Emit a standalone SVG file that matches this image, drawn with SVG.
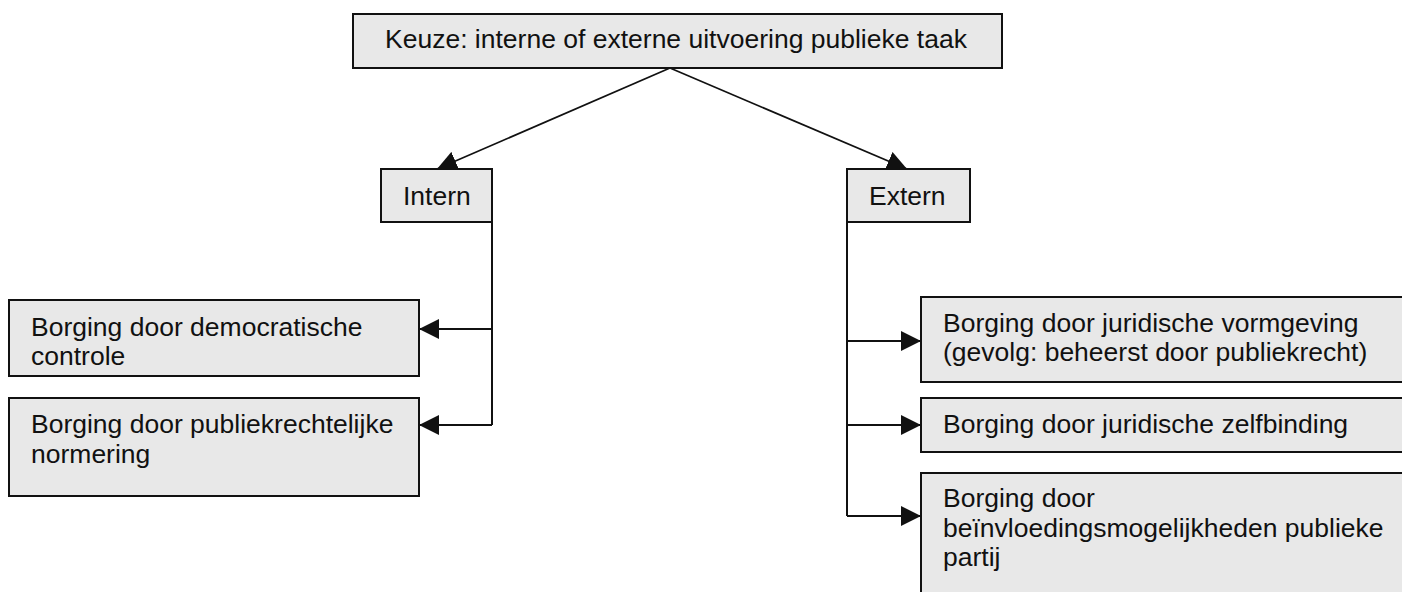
<svg xmlns="http://www.w3.org/2000/svg" width="1402" height="592" viewBox="0 0 1402 592">
<style>
.box{fill:#e8e8e8;stroke:#111;stroke-width:2}
.t{font-family:"Liberation Sans",Arial,sans-serif;font-size:26.5px;fill:#111}
.c{stroke:#111;stroke-width:2;fill:none}
.d{stroke:#111;stroke-width:1.7;fill:none}
</style>
<defs>
<marker id="ah" viewBox="0 0 10 10" refX="10" refY="5" markerWidth="10" markerHeight="10" markerUnits="userSpaceOnUse" orient="auto">
<path d="M0,0 L10,5 L0,10 Z" fill="#111"/>
</marker>
<marker id="ah2" viewBox="0 0 20 20" refX="20" refY="10" markerWidth="20" markerHeight="20" markerUnits="userSpaceOnUse" orient="auto">
<path d="M0,0 L20,10 L0,20 Z" fill="#111"/>
</marker>
</defs>
<rect width="1402" height="592" fill="#fff"/>
<g id="connectors">
<line class="d" x1="670" y1="68" x2="437" y2="169" marker-end="url(#ah2)"/>
<line class="d" x1="670" y1="68" x2="907" y2="169" marker-end="url(#ah2)"/>
<path class="c" d="M492,222 V425"/>
<line class="c" x1="492" y1="329" x2="419" y2="329" marker-end="url(#ah2)"/>
<line class="c" x1="492" y1="425" x2="419" y2="425" marker-end="url(#ah2)"/>
<path class="c" d="M847,222 V516"/>
<line class="c" x1="847" y1="341" x2="921" y2="341" marker-end="url(#ah2)"/>
<line class="c" x1="847" y1="425" x2="921" y2="425" marker-end="url(#ah2)"/>
<line class="c" x1="847" y1="516" x2="921" y2="516" marker-end="url(#ah2)"/>
</g>
<g id="top">
<rect class="box" x="353" y="14" width="649" height="54"/>
<text class="t" x="385" y="48">Keuze: interne of externe uitvoering publieke taak</text>
</g>
<g id="intern">
<rect class="box" x="381" y="169" width="111" height="53"/>
<text class="t" x="403" y="205">Intern</text>
</g>
<g id="extern">
<rect class="box" x="847" y="169" width="123" height="53"/>
<text class="t" x="869" y="205">Extern</text>
</g>
<g id="democratisch">
<rect class="box" x="9" y="300" width="410" height="76"/>
<text class="t" x="31" y="336">Borging door democratische</text>
<text class="t" x="31" y="365">controle</text>
</g>
<g id="publiekrechtelijk">
<rect class="box" x="9" y="398" width="410" height="98"/>
<text class="t" x="31" y="433">Borging door publiekrechtelijke</text>
<text class="t" x="31" y="463">normering</text>
</g>
<g id="vormgeving">
<rect class="box" x="921" y="297" width="500" height="85"/>
<text class="t" x="943" y="332">Borging door juridische vormgeving</text>
<text class="t" x="943" y="361">(gevolg: beheerst door publiekrecht)</text>
</g>
<g id="zelfbinding">
<rect class="box" x="921" y="398" width="500" height="54"/>
<text class="t" x="943" y="433">Borging door juridische zelfbinding</text>
</g>
<g id="beinvloeding">
<rect class="box" x="921" y="473" width="500" height="140"/>
<text class="t" x="943" y="507">Borging door</text>
<text class="t" x="943" y="537">beïnvloedingsmogelijkheden publieke</text>
<text class="t" x="943" y="566">partij</text>
</g>
</svg>
